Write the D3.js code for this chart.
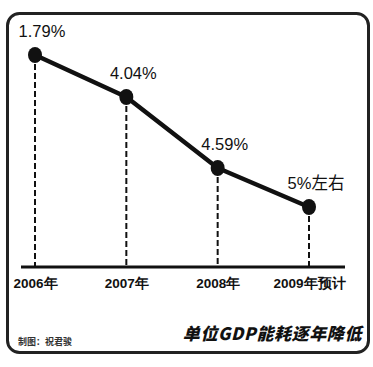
<!DOCTYPE html>
<html><head><meta charset="utf-8">
<script src="https://cdn.jsdelivr.net/npm/d3@7"></script>
<style>html,body{margin:0;padding:0;background:#fff;}svg{display:block;}</style>
</head><body>
<svg id="c" width="373" height="367"></svg>
<script>
const years = ["2006年", "2007年", "2008年", "2009年预计"];
const rates = [1.79, 4.04, 4.59, 5];
const rateLabels = ["1.79%", "4.04%", "4.59%", "5%左右"];
// plotted height of each point (illustrative level)
const levels = [100, 80.2, 46.7, 28.3];
const title = "单位GDP能耗逐年降低";
const credit = "制图：祝君骏";

const svg = d3.select("#c");
const ink = "#111";

svg.append("rect").attr("x", 7.5).attr("y", 13.5).attr("width", 361).attr("height", 339)
  .attr("rx", 12).attr("fill", "#fff").attr("stroke", "#222").attr("stroke-width", 3);

const x = d3.scalePoint().domain(years).range([35, 309]);
const y = d3.scaleLinear().domain([0, 100]).range([267, 55]);

const data = years.map((yr, i) => ({yr, rate: rates[i], label: rateLabels[i], level: levels[i]}));

// dashed drop lines
svg.selectAll("line.drop").data(data).enter().append("line")
  .attr("x1", d => x(d.yr)).attr("x2", d => x(d.yr))
  .attr("y1", d => y(d.level)).attr("y2", y(0))
  .attr("stroke", ink).attr("stroke-width", 2).attr("stroke-dasharray", "6,3");

// baseline axis
const axis = d3.axisBottom(x).tickSize(0).tickPadding(18);
const gAx = svg.append("g").attr("transform", `translate(0,${y(0)})`).call(axis);
gAx.select(".domain").remove();
gAx.append("line").attr("x1", 21).attr("x2", 345).attr("y1", 0).attr("y2", 0)
  .attr("stroke", ink).attr("stroke-width", 3);
gAx.selectAll(".tick text").attr("fill", ink)
  .attr("font-family", "'Liberation Sans Narrow', 'Liberation Sans', sans-serif")
  .attr("font-weight", "bold").attr("font-size", 13.5)
  .attr("dy", "0.2em");

// line
svg.append("path").datum(data)
  .attr("d", d3.line().x(d => x(d.yr)).y(d => y(d.level)))
  .attr("fill", "none").attr("stroke", ink).attr("stroke-width", 4.5).attr("stroke-linejoin", "round");

svg.selectAll("ellipse.pt").data(data).enter().append("ellipse")
  .attr("cx", d => x(d.yr)).attr("cy", d => y(d.level))
  .attr("rx", 7).attr("ry", 8).attr("fill", ink);

svg.selectAll("text.val").data(data).enter().append("text")
  .attr("x", d => x(d.yr) + 7).attr("y", d => y(d.level) - 18)
  .attr("text-anchor", "middle")
  .attr("font-family", "'Liberation Sans', 'Noto Sans CJK SC', sans-serif")
  .attr("font-size", 16.5).attr("fill", ink)
  .text(d => d.label);

svg.append("text").attr("x", 362).attr("y", 340).attr("text-anchor", "end")
  .attr("font-family", "'Noto Sans CJK SC', sans-serif").attr("font-weight", "900")
  .attr("font-style", "italic").attr("font-size", 17).attr("letter-spacing", 0.6)
  .attr("fill", ink).text(title);

svg.append("text").attr("x", 18).attr("y", 345)
  .attr("font-family", "'Noto Sans CJK SC', serif").attr("font-weight", "bold")
  .attr("font-size", 9).attr("fill", "#333").text(credit);
</script>
</body></html>
